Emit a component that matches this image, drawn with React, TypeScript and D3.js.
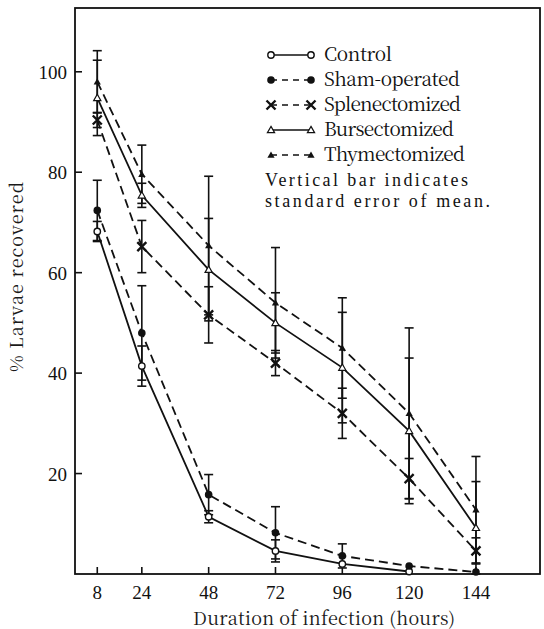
import * as d3 from "d3";

const hours = [8, 24, 48, 72, 96, 120, 144];
const xTicks = [8, 24, 48, 72, 96, 120, 144];
const yTicks = [20, 40, 60, 80, 100];

// % larvae recovered, per group (null = no point)
const control = [68.2, 41.4, 11.4, 4.6, 2.0, 0.5, null];
const controlSE = [2, 4, 1.2, 2.2, 0, 0, 0];
const sham = [72.4, 48, 15.8, 8.2, 3.6, 1.6, 0.4];
const shamSE = [6, 9.4, 4, 5.2, 2.4, 0, 0];
const splen = [90.4, 65.2, 51.6, 42, 32, 19, 4.6];
const splenSE = [1.5, 5.2, 5.6, 2.5, 5, 4, 2.6];
const burs = [94.8, 75.4, 60.6, 50, 41.1, 28.5, 9.2];
const bursSE = [7.5, 2.4, 10.2, 6, 11, 14.5, 9.2];
const thym = [98, 79.6, 65.4, 54, 45, 32, 12.8];
const thymSE = [6.2, 5.8, 13.8, 11, 10, 17, 10.6];

const legendNames = [
  "Control",
  "Sham-operated",
  "Splenectomized",
  "Bursectomized",
  "Thymectomized",
];
const noteLines = ["Vertical bar indicates", "standard error of mean."];

type Mark = "openCircle" | "dot" | "cross" | "openTri" | "tri";

const series = [
  { name: legendNames[0], values: control, se: controlSE, mark: "openCircle" as Mark, dashed: false },
  { name: legendNames[1], values: sham, se: shamSE, mark: "dot" as Mark, dashed: true },
  { name: legendNames[2], values: splen, se: splenSE, mark: "cross" as Mark, dashed: true },
  { name: legendNames[3], values: burs, se: bursSE, mark: "openTri" as Mark, dashed: false },
  { name: legendNames[4], values: thym, se: thymSE, mark: "tri" as Mark, dashed: true },
];

const W = 544;
const H = 629;
const txt = { fontFamily: "Noto Serif CJK JP" };
const num = { fontFamily: "Liberation Serif" };

const x = d3.scaleLinear().domain([0, 167]).range([75, 540]);
const y = d3.scaleLinear().domain([0, 112.7]).range([574, 8]);

function Marker({ kind, cx, cy }: { kind: Mark; cx: number; cy: number }) {
  if (kind === "openCircle")
    return <circle cx={cx} cy={cy} r={3.2} fill="#fff" stroke="#111" strokeWidth={1.4} />;
  if (kind === "dot") return <circle cx={cx} cy={cy} r={3.8} fill="#111" />;
  if (kind === "cross") {
    const s = 4.5;
    return (
      <path
        d={`M${cx - s},${cy - s}L${cx + s},${cy + s}M${cx - s},${cy + s}L${cx + s},${cy - s}`}
        stroke="#111"
        strokeWidth={2.4}
      />
    );
  }
  const s = 3.6;
  const tri = `M${cx},${cy - s}L${cx + s},${cy + s * 0.75}L${cx - s},${cy + s * 0.75}Z`;
  if (kind === "openTri") return <path d={tri} fill="#fff" stroke="#111" strokeWidth={1.2} />;
  return <path d={tri} fill="#111" />;
}

export default function App() {
  const line = d3
    .line<[number, number | null]>()
    .defined((d) => d[1] != null)
    .x((d) => x(d[0]))
    .y((d) => y(d[1] as number));

  const [x0, x1] = x.range();
  const [yb, yt] = y.range();

  return (
    <svg width={W} height={H} style={{ position: "absolute", left: 0, top: 0, background: "#fff" }}>
      {/* frame */}
      <rect x={x0} y={yt} width={x1 - x0} height={yb - yt} fill="none" stroke="#111" strokeWidth={1.8} />

      {/* ticks, inward */}
      {yTicks.map((t) => (
        <g key={"y" + t}>
          <line x1={x0} x2={x0 + 7} y1={y(t)} y2={y(t)} stroke="#111" strokeWidth={1.6} />
          <text x={67} y={y(t) + 7} textAnchor="end" fontSize={19} fill="#111" style={num}>
            {t}
          </text>
        </g>
      ))}
      {xTicks.map((t) => (
        <g key={"x" + t}>
          <line x1={x(t)} x2={x(t)} y1={yb} y2={yb - 7} stroke="#111" strokeWidth={1.6} />
          <text x={x(t)} y={599} textAnchor="middle" fontSize={19} fill="#111" style={num}>
            {t}
          </text>
        </g>
      ))}

      <text
        x={324}
        y={625}
        textAnchor="middle"
        fontSize={18}
        fill="#1a1a1a"
        style={txt}
        textLength={262}
        lengthAdjust="spacing"
      >
        Duration of infection (hours)
      </text>
      <text
        transform={`translate(23,277) rotate(-90)`}
        textAnchor="middle"
        fontSize={18}
        fill="#1a1a1a"
        style={txt}
        textLength={190}
        lengthAdjust="spacing"
      >
        % Larvae recovered
      </text>

      {/* lines */}
      {series.map((s) => (
        <path
          key={"l" + s.name}
          d={line(hours.map((h, i) => [h, s.values[i]]) as [number, number | null][]) || ""}
          fill="none"
          stroke="#111"
          strokeWidth={1.8}
          strokeDasharray={s.dashed ? "9 5" : undefined}
        />
      ))}

      {/* error bars */}
      {series.map((s) =>
        hours.map((h, i) => {
          const v = s.values[i];
          const e = s.se[i];
          if (v == null || !e) return null;
          const cx = x(h);
          const lo = y(Math.max(0, v - e));
          const hi = y(v + e);
          return (
            <g key={"e" + s.name + h} stroke="#111" strokeWidth={1.6}>
              <line x1={cx} x2={cx} y1={lo} y2={hi} />
              <line x1={cx - 4.5} x2={cx + 4.5} y1={hi} y2={hi} />
              <line x1={cx - 4.5} x2={cx + 4.5} y1={lo} y2={lo} />
            </g>
          );
        })
      )}

      {/* markers */}
      {series.map((s) =>
        hours.map((h, i) => {
          const v = s.values[i];
          if (v == null) return null;
          return <Marker key={"m" + s.name + h} kind={s.mark} cx={x(h)} cy={y(v)} />;
        })
      )}

      {/* legend */}
      {series.map((s, i) => {
        const ly = 55 + i * 25;
        const widths = [68, 136, 137, 130, 141];
        return (
          <g key={"lg" + s.name}>
            <line
              x1={271}
              x2={311}
              y1={ly}
              y2={ly}
              stroke="#111"
              strokeWidth={1.6}
              strokeDasharray={s.dashed ? "6 5" : undefined}
            />
            <Marker kind={s.mark} cx={271} cy={ly} />
            <Marker kind={s.mark} cx={311} cy={ly} />
            <text
              x={324}
              y={ly + 6}
              fontSize={19}
              fill="#111"
              style={txt}
              textLength={widths[i]}
              lengthAdjust="spacing"
            >
              {s.name}
            </text>
          </g>
        );
      })}
      {noteLines.map((t, i) => (
        <text
          key={t}
          x={265}
          y={186 + i * 21}
          fontSize={18}
          fill="#111"
          style={num}
          textLength={i === 0 ? 203 : 225}
          lengthAdjust="spacing"
        >
          {t}
        </text>
      ))}
    </svg>
  );
}
